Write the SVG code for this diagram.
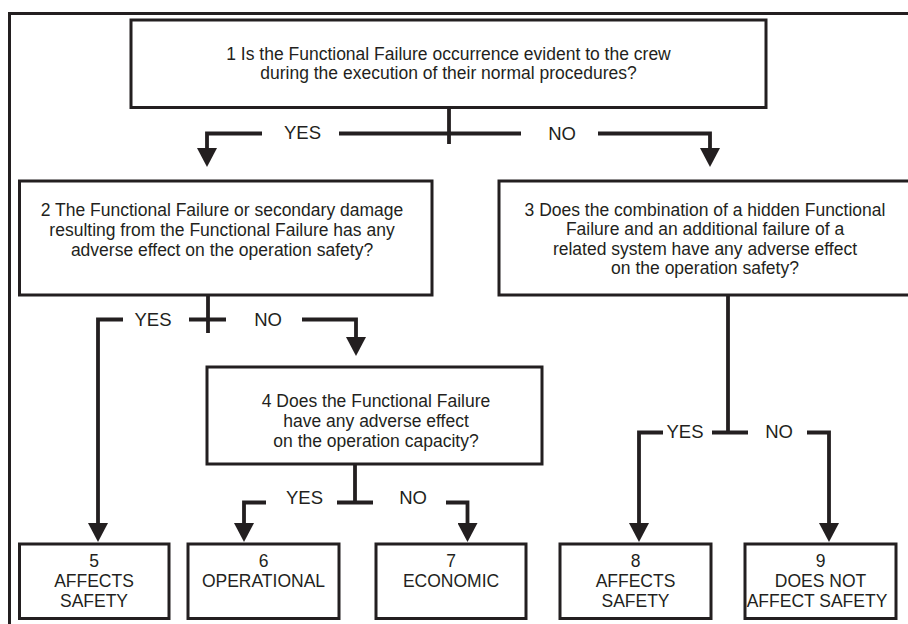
<svg xmlns="http://www.w3.org/2000/svg" width="908" height="624" viewBox="0 0 908 624">
<defs>
<style>
.box{fill:#fff;stroke:#231f20;stroke-width:3}
.frame{fill:none;stroke:#231f20;stroke-width:3}
.con{fill:none;stroke:#231f20;stroke-width:3.8;stroke-linejoin:miter}
.arr{fill:none;stroke:#231f20;stroke-width:3.8;marker-end:url(#ah)}
.t{font-family:"Liberation Sans",Arial,sans-serif;font-size:17.5px;fill:#231f20;text-anchor:middle}
.lbl{font-family:"Liberation Sans",Arial,sans-serif;font-size:18.5px;fill:#231f20;text-anchor:middle}
</style>
<marker id="ah" markerUnits="userSpaceOnUse" viewBox="0 -10 19 20" refX="0" refY="0" markerWidth="19" markerHeight="20" orient="auto">
<path d="M0,-10 L19,0 L0,10 Z" fill="#231f20"/>
</marker>
</defs>
<path class="frame" d="M9.5,640 V13.5 H920"/>
<g id="node1">
<rect class="box" x="131" y="20" width="635" height="87.5"/>
<text class="t" x="448.5" y="59.5">1 Is the Functional Failure occurrence evident to the crew</text>
<text class="t" x="448.5" y="79">during the execution of their normal procedures?</text>
</g>
<g id="node2">
<rect class="box" x="19.5" y="181" width="412.5" height="114"/>
<text class="t" x="222" y="215.5">2 The Functional Failure or secondary damage</text>
<text class="t" x="222" y="235.5">resulting from the Functional Failure has any</text>
<text class="t" x="222" y="255.5">adverse effect on the operation safety?</text>
</g>
<g id="node3">
<rect class="box" x="499" y="181" width="420" height="114"/>
<text class="t" x="705" y="215.5">3 Does the combination of a hidden Functional</text>
<text class="t" x="705" y="235">Failure and an additional failure of a</text>
<text class="t" x="705" y="254.5">related system have any adverse effect</text>
<text class="t" x="705" y="274">on the operation safety?</text>
</g>
<g id="node4">
<rect class="box" x="207" y="367" width="335" height="97"/>
<text class="t" x="376" y="407">4 Does the Functional Failure</text>
<text class="t" x="376" y="427">have any adverse effect</text>
<text class="t" x="376" y="447">on the operation capacity?</text>
</g>
<g id="node5">
<rect class="box" x="19.5" y="544" width="149.5" height="74.5"/>
<text class="t" x="94" y="567">5</text>
<text class="t" x="94" y="587">AFFECTS</text>
<text class="t" x="94" y="606.5">SAFETY</text>
</g>
<g id="node6">
<rect class="box" x="188" y="544" width="151" height="74.5"/>
<text class="t" x="263.5" y="567">6</text>
<text class="t" x="263.5" y="587">OPERATIONAL</text>
</g>
<g id="node7">
<rect class="box" x="376" y="544" width="150" height="74.5"/>
<text class="t" x="451" y="567">7</text>
<text class="t" x="451" y="587">ECONOMIC</text>
</g>
<g id="node8">
<rect class="box" x="560" y="544" width="151" height="74.5"/>
<text class="t" x="635.5" y="567">8</text>
<text class="t" x="635.5" y="587">AFFECTS</text>
<text class="t" x="635.5" y="606.5">SAFETY</text>
</g>
<g id="node9">
<rect class="box" x="745" y="544" width="151" height="74.5"/>
<text class="t" x="820.5" y="567">9</text>
<text class="t" x="820.5" y="587">DOES NOT</text>
<text class="t" x="817" y="606.5">AFFECT SAFETY</text>
</g>
<g id="connectors">
<!-- from 1 -->
<path class="con" d="M449,108 V144"/>
<path class="con" d="M339,133.5 H521"/>
<path class="arr" d="M262,133.5 H207 V148"/>
<path class="arr" d="M598,133.5 H710 V148"/>
<text class="lbl" x="302.5" y="139">YES</text>
<text class="lbl" x="562" y="140">NO</text>
<!-- from 2 -->
<path class="con" d="M208,295 V333"/>
<path class="con" d="M189,319.5 H226"/>
<path class="arr" d="M123,319.5 H98 V523"/>
<path class="arr" d="M302,319.5 H356 V337"/>
<text class="lbl" x="153" y="325.5">YES</text>
<text class="lbl" x="268" y="325.5">NO</text>
<!-- from 4 -->
<path class="con" d="M355,464 V502.5"/>
<path class="con" d="M337,502.5 H373"/>
<path class="arr" d="M266,502.5 H244 V523"/>
<path class="arr" d="M446,502.5 H467.5 V523"/>
<text class="lbl" x="304.5" y="504">YES</text>
<text class="lbl" x="413" y="504">NO</text>
<!-- from 3 -->
<path class="con" d="M728,295 V433"/>
<path class="con" d="M712,432.5 H748"/>
<path class="arr" d="M663,432.5 H639 V523"/>
<path class="arr" d="M807,432.5 H829 V523"/>
<text class="lbl" x="685" y="437.5">YES</text>
<text class="lbl" x="779" y="437.5">NO</text>
</g>
</svg>
